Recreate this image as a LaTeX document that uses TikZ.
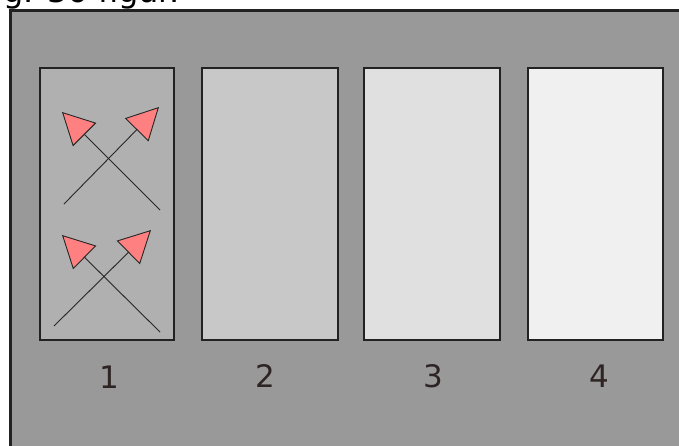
\documentclass[tikz,border=0pt]{standalone}
\usepackage{fontspec}
\setmainfont{DejaVu Sans}
\usetikzlibrary{arrows.meta}
\definecolor{outergray}{HTML}{999999}
\definecolor{edgedark}{HTML}{222222}
\definecolor{pone}{HTML}{B0B0B0}
\definecolor{ptwo}{HTML}{C8C8C8}
\definecolor{pthree}{HTML}{E0E0E0}
\definecolor{pfour}{HTML}{F0F0F0}
\definecolor{headred}{HTML}{FF8080}
\definecolor{labelink}{HTML}{2E2424}
\begin{document}
\begin{tikzpicture}[x=1pt,y=-1pt,
  panel/.style={draw=edgedark,line width=1.8pt,inner sep=0pt,anchor=north west},
  lbl/.style={font=\fontsize{31}{31}\selectfont,text=labelink,inner sep=0pt},
  arr/.style={draw=black!85,line width=0.9pt,
    -{Triangle[length=32pt,width=33pt,fill=headred,line width=0.9pt]}}]
\useasboundingbox (0,0) rectangle (679,445);
\fill[white] (0,0) rectangle (679,445);
\node[anchor=base west,inner sep=0pt,font=\fontsize{32}{32}\selectfont,text=black]
  (caption) at (-22,2) {Fig. 36 figur.};
\draw[fill=outergray,draw=edgedark,line width=2.2pt] (10.5,10.5) rectangle (720,480);
\node[panel,fill=pone,minimum width=134pt,minimum height=272pt] (p1) at (39,67) {};
\node[panel,fill=ptwo,minimum width=136pt,minimum height=272pt] (p2) at (201,67) {};
\node[panel,fill=pthree,minimum width=136pt,minimum height=272pt] (p3) at (363,67) {};
\node[panel,fill=pfour,minimum width=135pt,minimum height=272pt] (p4) at (527,67) {};
\node[lbl] (l1) at (109,377) {1};
\node[lbl] (l2) at (265,376) {2};
\node[lbl] (l3) at (433,376) {3};
\node[lbl] (l4) at (599,376) {4};
\coordinate (a1s) at (64,204);
\coordinate (a1e) at (159,107);
\coordinate (a2s) at (160,210);
\coordinate (a2e) at (62,112);
\coordinate (b1s) at (54,326);
\coordinate (b1e) at (151,230);
\coordinate (b2s) at (160,332);
\coordinate (b2e) at (62,235);
\draw[arr] (a1s) -- (a1e);
\draw[arr] (a2s) -- (a2e);
\draw[arr] (b1s) -- (b1e);
\draw[arr] (b2s) -- (b2e);
\end{tikzpicture}
\end{document}
